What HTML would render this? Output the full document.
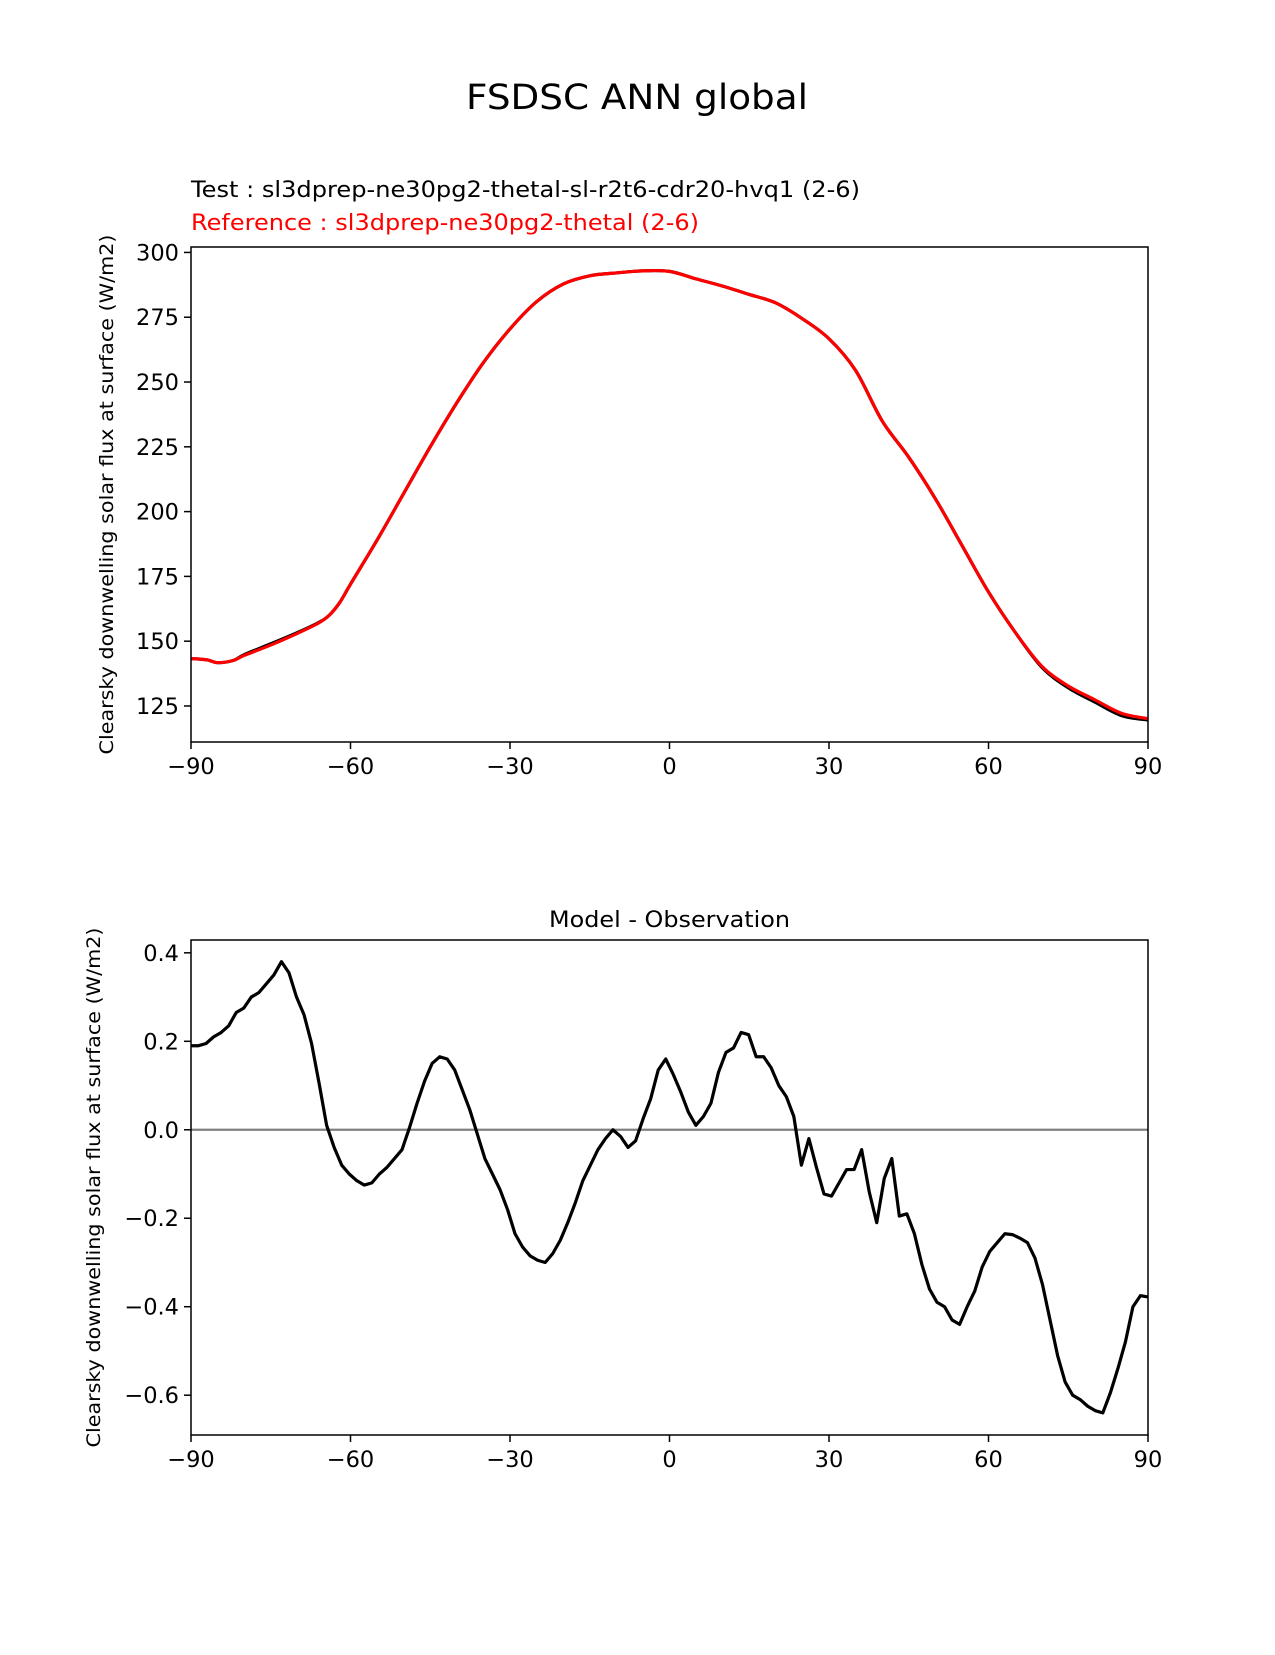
<!DOCTYPE html>
<html><head><meta charset="utf-8"><style>
html,body{margin:0;padding:0;background:#fff}
svg text{font-family:"DejaVu Sans","Liberation Sans",sans-serif}
</style></head><body>
<svg id="fig" width="1275" height="1650" viewBox="0 0 1275 1650" xmlns="http://www.w3.org/2000/svg">
<text x="637" y="109" font-size="35" text-anchor="middle" textLength="342" lengthAdjust="spacingAndGlyphs">FSDSC ANN global</text>
<text x="191" y="197" font-size="22" textLength="669" lengthAdjust="spacingAndGlyphs">Test : sl3dprep-ne30pg2-thetal-sl-r2t6-cdr20-hvq1 (2-6)</text>
<text x="191" y="230" font-size="22" fill="#ff0000" textLength="508" lengthAdjust="spacingAndGlyphs">Reference : sl3dprep-ne30pg2-thetal (2-6)</text>
<text x="669.5" y="927" font-size="22" text-anchor="middle" textLength="241" lengthAdjust="spacingAndGlyphs">Model - Observation</text>
<g id="top"></g>
<g id="bot"></g>
</svg>
<script>
const topLats = [-90,-87,-85,-82,-80,-75,-70,-66,-64,-62,-60,-55,-50,-45,-40,-35,-30,-25,-20,-15,-10,-5,0,5,10,15,20,25,30,35,40,45,50,55,60,65,70,75,80,85,90];
const refVals = [143.3,142.8,141.7,142.6,144.5,148.5,153,157,160,165,172,189,207,225,242,257.5,270.5,281,287.8,291,292.1,292.9,292.7,289.8,287,283.8,280.5,274.4,266.7,254.5,235,221,205,187,169,153.5,140.4,132.7,127.4,122.2,120.1];
const testVals = [143.3,142.8,141.7,142.6,144.8,149,153.3,157.2,160,165,172,189,207,225,242,257.5,270.5,281,287.8,291,292.1,292.9,292.7,289.8,287,283.8,280.5,274.4,266.7,254.5,235,221,205,187,169,153.5,140,132,126.5,121.3,119.6];
const topYTicks = [125,150,175,200,225,250,275,300];
const xTicks = [-90,-60,-30,0,30,60,90];
const diffVals = [0.19,0.19,0.195,0.21,0.22,0.235,0.265,0.275,0.30,0.31,0.33,0.35,0.38,0.355,0.30,0.26,0.195,0.105,0.01,-0.04,-0.08,-0.10,-0.115,-0.125,-0.12,-0.10,-0.085,-0.065,-0.045,0.005,0.06,0.11,0.15,0.165,0.16,0.135,0.09,0.045,-0.01,-0.065,-0.10,-0.135,-0.18,-0.235,-0.265,-0.285,-0.295,-0.30,-0.28,-0.25,-0.21,-0.165,-0.115,-0.08,-0.045,-0.02,0.0,-0.015,-0.04,-0.025,0.025,0.07,0.135,0.16,0.125,0.085,0.04,0.01,0.03,0.06,0.13,0.175,0.185,0.22,0.215,0.165,0.165,0.14,0.10,0.075,0.03,-0.08,-0.02,-0.085,-0.145,-0.15,-0.12,-0.09,-0.09,-0.045,-0.14,-0.21,-0.11,-0.065,-0.195,-0.19,-0.235,-0.305,-0.36,-0.39,-0.40,-0.43,-0.44,-0.40,-0.365,-0.31,-0.275,-0.255,-0.235,-0.237,-0.245,-0.255,-0.29,-0.35,-0.43,-0.51,-0.57,-0.60,-0.61,-0.625,-0.635,-0.64,-0.595,-0.54,-0.48,-0.40,-0.375,-0.378];
const botYTicks = [-0.6,-0.4,-0.2,0.0,0.2,0.4];
const botYLabels = ["\u22120.6","\u22120.4","\u22120.2","0.0","0.2","0.4"];

const NS="http://www.w3.org/2000/svg";
function mk(tag,attrs,parent){const e=document.createElementNS(NS,tag);for(const k in attrs)e.setAttribute(k,attrs[k]);parent.appendChild(e);return e;}
const L=191,R=1148;
const sx=v=>L+(v+90)/180*(R-L);
function axes(g,T,B,ymin,ymax,yt,ylab,ylx){
  const sy=v=>B-(v-ymin)/(ymax-ymin)*(B-T);
  for(let i=0;i<xTicks.length;i++){const x=sx(xTicks[i]);
    const t=mk('line',{x1:x,x2:x,y1:B,y2:B+7,stroke:'#000','stroke-width':1.5},g);
    
    
    const tx=mk('text',{x:x,y:B+32,'font-size':22.5,'text-anchor':'middle'},g);
    tx.textContent=xTicks[i]<0?'\u2212'+Math.abs(xTicks[i]):String(xTicks[i]);
    
    }
  for(let i=0;i<yt.length;i++){const y=sy(yt[i]);
    const t=mk('line',{x1:L-7,x2:L,y1:y,y2:y,stroke:'#000','stroke-width':1.5},g);
    
    
    const tx=mk('text',{x:L-12,y:y+8,'font-size':22.5,'text-anchor':'end'},g);
    tx.textContent=ylab[i];
    
    }
  const yl=mk('text',{x:0,y:0,'font-size':19,'text-anchor':'middle',transform:`translate(${ylx},${(T+B)/2}) rotate(-90)`,textLength:520,lengthAdjust:'spacingAndGlyphs'},g);
  yl.textContent='Clearsky downwelling solar flux at surface (W/m2)';
  
  
  return sy;
}
function line(g,xs,ys,sy,color,w,name,smooth){
  const P=xs.map((x,i)=>[sx(x),sy(ys[i])]);
  let d='M'+P[0][0].toFixed(2)+','+P[0][1].toFixed(2);
  for(let i=1;i<P.length;i++){
    if(smooth){
      const p0=P[Math.max(0,i-2)],p1=P[i-1],p2=P[i],p3=P[Math.min(P.length-1,i+1)];
      const c1=[p1[0]+(p2[0]-p0[0])/6,p1[1]+(p2[1]-p0[1])/6];
      const c2=[p2[0]-(p3[0]-p1[0])/6,p2[1]-(p3[1]-p1[1])/6];
      d+='C'+c1.map(v=>v.toFixed(2)).join(',')+' '+c2.map(v=>v.toFixed(2)).join(',')+' '+p2[0].toFixed(2)+','+p2[1].toFixed(2);
    } else d+='L'+P[i][0].toFixed(2)+','+P[i][1].toFixed(2);
  }
  const p=mk('path',{d:d,fill:'none',stroke:color,'stroke-width':w,'stroke-linejoin':'round'},g);
  
  
}
const gt=document.getElementById('top');
const T1=247,B1=742;
const sy1=axes(gt,T1,B1,111.1,302.1,topYTicks,topYTicks.map(String),113);
const clip1=mk('clipPath',{id:'c1'},gt);mk('rect',{x:L,y:T1,width:R-L,height:B1-T1},clip1);
const lg=mk('g',{'clip-path':'url(#c1)'},gt);
line(lg,topLats,testVals,sy1,'#000',3.2,'test-line',true);
line(lg,topLats,refVals,sy1,'#ff0000',3.2,'reference-line',true);
const f1=mk('rect',{x:L,y:T1,width:R-L,height:B1-T1,fill:'none',stroke:'#000','stroke-width':1.5},gt);



const gb=document.getElementById('bot');
const T2=940,B2=1435;
const sy2=axes(gb,T2,B2,-0.69,0.429,botYTicks,botYLabels,100);
const z=mk('line',{x1:L,x2:R,y1:sy2(0),y2:sy2(0),stroke:'#808080','stroke-width':2.2},gb);


const dl=diffVals.map((v,i)=>-90+180*i/(diffVals.length-1));
line(gb,dl,diffVals,sy2,'#000',3.2,'difference-line',false);
const f2=mk('rect',{x:L,y:T2,width:R-L,height:B2-T2,fill:'none',stroke:'#000','stroke-width':1.5},gb);


</script>
</body></html>
